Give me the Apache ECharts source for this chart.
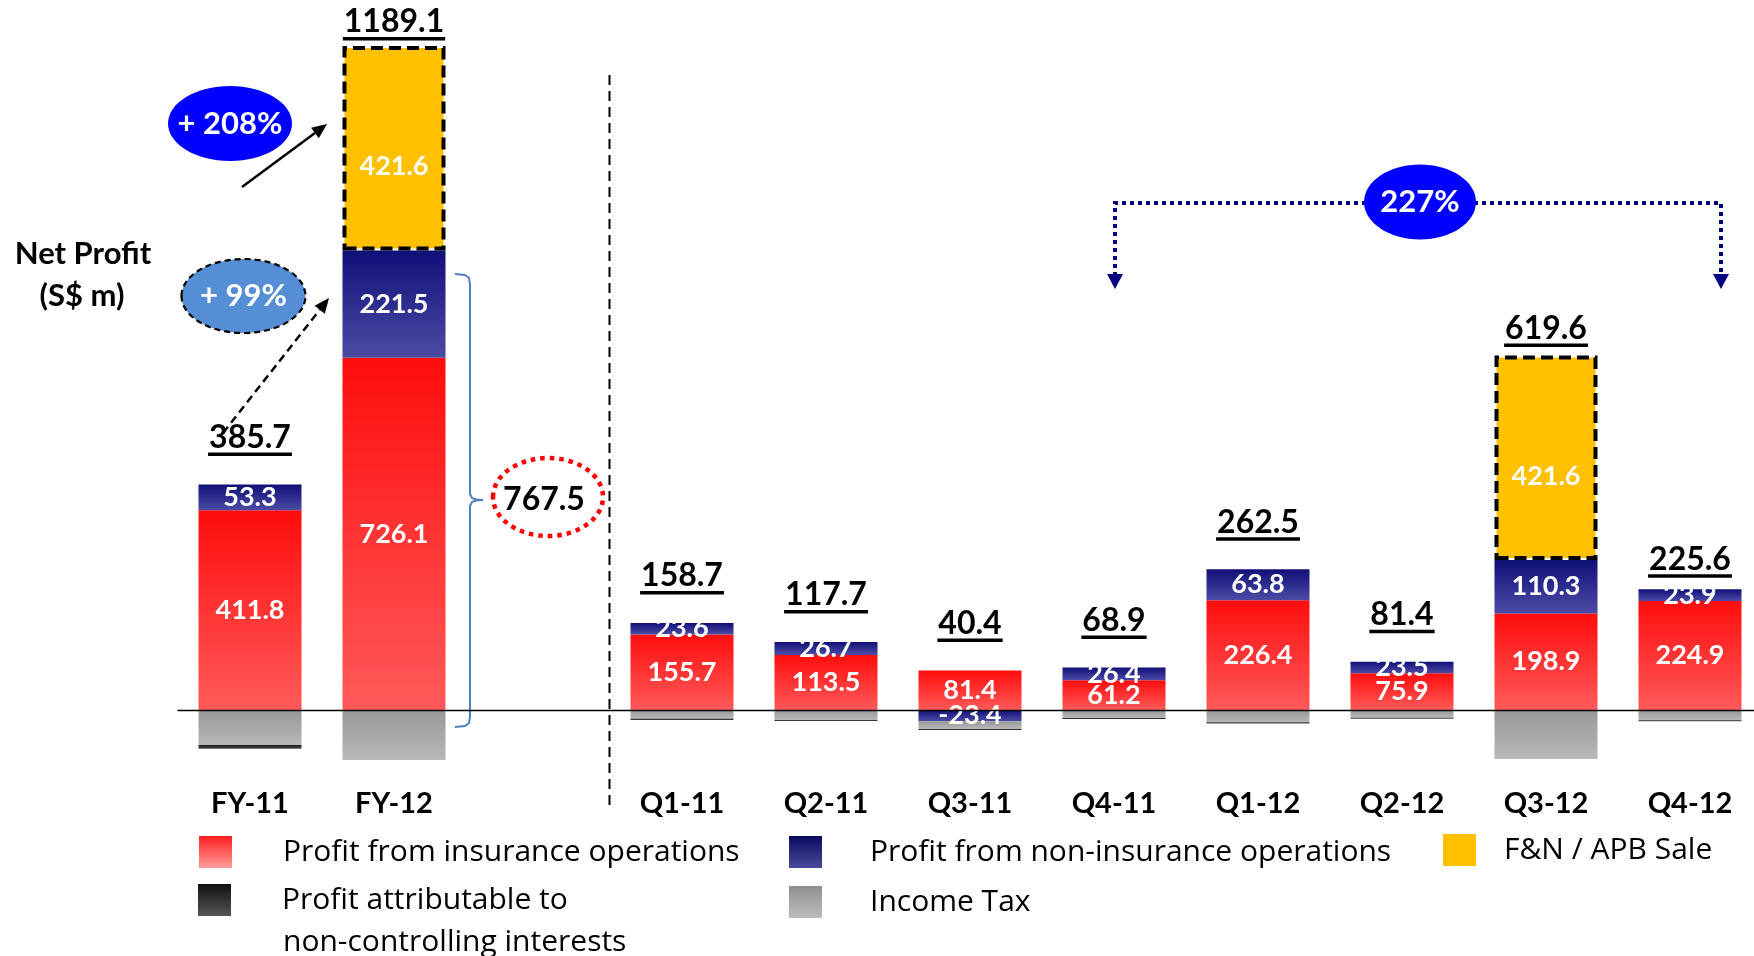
<!DOCTYPE html>
<html>
<head>
<meta charset="utf-8">
<script src="https://cdn.jsdelivr.net/npm/echarts@6/dist/echarts.min.js"></script>
<style>
html,body{margin:0;padding:0;background:#fff}
#chart{width:1754px;height:956px}
</style>
</head>
<body>
<div id="chart"></div>
<script>
// categories, the blank one is the gap holding the 767.5 bracket
const categories = ['FY-11','FY-12','','Q1-11','Q2-11','Q3-11','Q4-11','Q1-12','Q2-12','Q3-12','Q4-12']
const insurance = [411.8, 726.1, '-', 155.7, 113.5, 81.4, 61.2, 226.4, 75.9, 198.9, 224.9]
const nonInsurance = [53.3, 221.5, '-', 23.6, 26.7, -23.4, 26.4, 63.8, 23.5, 110.3, 23.9]
const saleGain = ['-', 421.6, '-', '-', '-', '-', '-', '-', '-', 421.6, '-']
// tax and minority interests are not labelled
const incomeTax = [-72, -103, '-', -18, -20.5, -15.6, -16.7, -25, -16, -101, -21.2]
const minority = [-8, '-', '-', -2.6, -2, -2, -2, -2.7, -2, '-', -2]
const netProfit = [385.7, 1189.1, null, 158.7, 117.7, 40.4, 68.9, 262.5, 81.4, 619.6, 225.6]

const FONT = 'Lato'
const LEGEND_FONT = 'Open Sans'
const names = {
    ins: 'Profit from insurance operations',
    non: 'Profit from non-insurance operations',
    fn: 'F&N / APB Sale',
    nci: 'Profit attributable to non-controlling interests',
    tax: 'Income Tax'
}

function vgrad(a, b){
    return new echarts.graphic.LinearGradient(0, 0, 0, 1, [{offset: 0, color: a}, {offset: 1, color: b}])
}
function num(v){ return typeof v === 'number' ? v : 0 }

// top of the positive stack, where the total label sits
let posTop = []
for(let i=0;i<categories.length;i++){
    let s = 0
    ;[insurance, nonInsurance, saleGain].forEach(a => { if(num(a[i]) > 0) s += a[i] })
    posTop.push(s)
}

const measureCtx = document.createElement('canvas').getContext('2d')
function textWidth(t, font){
    measureCtx.font = font
    return measureCtx.measureText(t).width
}

const insideLabel = {
    show: true, position: 'inside', color: '#fff',
    fontFamily: FONT, fontWeight: 'bold', fontSize: 27,
    formatter: p => Number(p.value).toFixed(1)
}

// annotation helpers
function ellipse(cx, cy, rx, ry, style, z){
    return {type: 'ellipse', z: z || 10, shape: {cx: cx, cy: cy, rx: rx, ry: ry}, style: style}
}
function label(text, x, y, size, color, weight, align, family){
    return {type: 'text', x: x, y: y, z: 11,
        style: {text: text, font: `${weight || 'bold'} ${size}px ${family || FONT}`, fill: color,
            align: align || 'center', verticalAlign: 'middle'}}
}
function arrow(x1, y1, x2, y2, dash){
    const dx = x2-x1, dy = y2-y1, L = Math.hypot(dx, dy), ux = dx/L, uy = dy/L
    const hl = 15, hw = 6.5
    const bx = x2-ux*hl, by = y2-uy*hl
    return [
        {type: 'line', z: 10, shape: {x1: x1, y1: y1, x2: bx, y2: by},
            style: {stroke: '#000', lineWidth: 2.5, lineDash: dash ? [8, 5] : null}},
        {type: 'polygon', z: 10, shape: {points: [[x2, y2], [bx-uy*hw, by+ux*hw], [bx+uy*hw, by-ux*hw]]},
            style: {fill: '#000'}}
    ]
}

let graphics = [
    {type: 'line', z: 1, shape: {x1: 609.5, y1: 75, x2: 609.5, y2: 805},
        style: {stroke: '#000', lineWidth: 2, lineDash: [10, 6]}},
    label('Net Profit', 83, 254, 31, '#000'),
    label('(S$ m)', 82, 296, 31, '#000'),
    ellipse(230, 123.5, 62, 37.5, {fill: '#0000ff'}),
    label('+ 208%', 230, 123.5, 31, '#fff'),
    ...arrow(242, 187, 327, 124, false),
    ellipse(243.5, 296, 62, 37, {fill: '#558ed5', stroke: '#000', lineWidth: 2.2, lineDash: [6, 4]}),
    label('+ 99%', 243.5, 296, 31, '#fff'),
    ...arrow(223, 433, 329, 298, true),
    {type: 'polyline', z: 10,
        shape: {points: [[455, 274], [465, 275], [469, 278], [470, 284], [470, 494], [472, 498], [476, 499.5], [483, 500],
            [476, 500.5], [472, 502], [470, 506], [470, 717], [469, 723], [465, 726], [455, 727]]},
        style: {stroke: '#4f81bd', lineWidth: 2, fill: null}},
    ellipse(548, 497, 55, 39, {fill: null, stroke: '#ff0000', lineWidth: 4.5, lineDash: [4.5, 5]}),
    label('767.5', 544, 500, 32, '#000'),
    {type: 'polyline', z: 10, shape: {points: [[1115, 276], [1115, 203], [1721, 203], [1721, 276]]},
        style: {stroke: '#000080', lineWidth: 4, lineDash: [4, 4], fill: null}},
    {type: 'polygon', z: 10, shape: {points: [[1107, 274], [1123, 274], [1115, 289]]}, style: {fill: '#000080'}},
    {type: 'polygon', z: 10, shape: {points: [[1713, 274], [1729, 274], [1721, 289]]}, style: {fill: '#000080'}},
    ellipse(1420, 202, 56, 37.5, {fill: '#0000ff'}, 11),
    label('227%', 1420, 202, 31, '#fff'),
    label('non-controlling interests', 283, 942, 30, '#000', 'normal', 'left', LEGEND_FONT)
]

const k = 0.485          // pixels per S$ m
const yMin = -150, yMax = 1400
const zeroY = 710

function legendAt(left, top, name, color, gap){
    return {
        left: left, top: top, padding: 0, selectedMode: false,
        icon: 'rect', itemWidth: 33, itemHeight: 32,
        formatter: n => n === names.nci ? 'Profit attributable to' : n,
        textStyle: {fontFamily: LEGEND_FONT, fontSize: 30, color: '#000', lineHeight: 32, padding: [0, 0, 0, gap]},
        data: [{name: name, itemStyle: {color: color}}]
    }
}

const totalFont = `bold 32px ${FONT}`
const totalLift = {'FY-12': 24, 'Q3-12': 27, 'Q4-12': 30}

let option = {
    animation: false,
    backgroundColor: '#fff',
    grid: {left: 178, right: -8, top: zeroY - yMax*k, bottom: 956 - (zeroY - yMin*k), outerBoundsMode: 'none'},
    xAxis: {
        type: 'category', data: categories, z: 10,
        axisLine: {onZero: true, lineStyle: {color: '#000', width: 1.3}},
        axisTick: {show: false},
        axisLabel: {margin: 6, color: '#000', fontFamily: FONT, fontWeight: 'bold', fontSize: 29, interval: 0}
    },
    yAxis: {type: 'value', min: yMin, max: yMax, show: false, splitLine: {show: false}},
    legend: [
        legendAt(199, 836, names.ins, vgrad('#ff1f1f', '#ff9c9c'), 46),
        legendAt(789, 836, names.non, vgrad('#0a0a60', '#4a4a9a'), 43),
        legendAt(1443, 834, names.fn, '#ffc000', 23),
        legendAt(198, 884, names.nci, vgrad('#111111', '#555555'), 46),
        legendAt(789, 886, names.tax, vgrad('#8f8f8f', '#bdbdbd'), 43)
    ],
    graphic: graphics,
    series: [
        {name: names.ins, type: 'bar', stack: 'np', barWidth: 103, data: insurance,
            itemStyle: {color: vgrad('#ff0d0d', '#ff5a5a')}, label: insideLabel},
        {name: names.non, type: 'bar', stack: 'np', barWidth: 103, data: nonInsurance,
            itemStyle: {color: vgrad('#0f0f78', '#4c4ca6')}, label: insideLabel},
        {name: names.fn, type: 'bar', stack: 'np', barWidth: 103,
            data: saleGain.map(v => v === '-' ? '-' : {value: v,
                itemStyle: {borderColor: '#000', borderWidth: 4, borderType: [12, 6]}}),
            itemStyle: {color: '#ffc000'}, label: Object.assign({}, insideLabel, {offset: [0, 18]})},
        {name: names.tax, type: 'bar', stack: 'np', barWidth: 103, data: incomeTax,
            itemStyle: {color: vgrad('#989898', '#b8b8b8')}},
        {name: names.nci, type: 'bar', stack: 'np', barWidth: 103, data: minority,
            itemStyle: {color: vgrad('#1a1a1a', '#4d4d4d')}},
        {
            name: 'Net profit', type: 'custom', z: 5, silent: true, clip: false,
            data: categories.map((c, i) => [i, posTop[i]]).filter(d => netProfit[d[0]] !== null),
            renderItem: (params, api) => {
                const i = api.value(0)
                const pt = api.coord([i, api.value(1)])
                const txt = netProfit[i].toFixed(1)
                const cy = pt[1] - (totalLift[categories[i]] || 47)
                const w = textWidth(txt, totalFont)
                return {type: 'group', children: [
                    {type: 'text', style: {text: txt, x: pt[0], y: cy, font: totalFont, fill: '#000',
                        align: 'center', verticalAlign: 'middle'}},
                    {type: 'rect', shape: {x: pt[0]-w/2-1, y: cy+15, width: w+2, height: 3.5}, style: {fill: '#000'}}
                ]}
            }
        }
    ]
}

let chartDom = echarts.init(document.querySelector('#chart'))
chartDom.setOption(option)
</script>
</body>
</html>
